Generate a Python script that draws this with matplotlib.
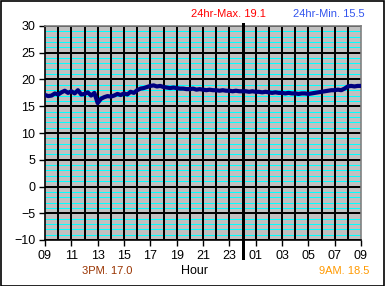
import numpy as np
import matplotlib
matplotlib.use("Agg")
import matplotlib.pyplot as plt
from matplotlib.lines import Line2D
from matplotlib.patches import Rectangle

# temperatura cada 15 minutos, desde las 09:00 hasta las 09:00 del dia siguiente
temps = [
    17.1, 16.9, 17.0, 17.4,   # 09
    17.2, 17.6, 17.9, 17.5,   # 10
    17.8, 17.4, 18.0, 17.2,   # 11
    17.3, 17.6, 17.0, 17.5,   # 12
    15.6, 16.4, 16.7, 16.9,   # 13
    16.8, 17.0, 17.3, 17.1,   # 14
    17.4, 17.2, 17.7, 17.5,   # 15
    18.0, 18.3, 18.4, 18.6,   # 16
    18.8, 18.9, 18.7, 18.8,   # 17
    18.6, 18.5, 18.4, 18.5,   # 18
    18.4, 18.3, 18.3, 18.2,   # 19
    18.2, 18.3, 18.1, 18.2,   # 20
    18.1, 18.0, 18.1, 18.0,   # 21
    18.0, 17.9, 18.0, 17.9,   # 22
    17.9, 17.8, 17.9, 17.8,   # 23
    17.8, 17.8, 17.7, 17.8,   # 00
    17.7, 17.7, 17.6, 17.7,   # 01
    17.6, 17.5, 17.6, 17.5,   # 02
    17.5, 17.4, 17.5, 17.4,   # 03
    17.4, 17.3, 17.4, 17.4,   # 04
    17.3, 17.4, 17.5, 17.6,   # 05
    17.7, 17.8, 17.9, 18.0,   # 06
    18.0, 18.1, 18.0, 18.3,   # 07
    18.7, 18.8, 18.7, 18.8,   # 08
    18.8,                     # 09
]
horas = np.arange(len(temps)) * 0.25

etiquetas_x = ["09", "11", "13", "15", "17", "19", "21", "23",
               "01", "03", "05", "07", "09"]
etiquetas_y = [-10, -5, 0, 5, 10, 15, 20, 25, 30]

maxima = "24hr-Max. 19.1"
minima = "24hr-Min. 15.5"
tarde = "3PM. 17.0"
manana = "9AM. 18.5"
medianoche = 15  # horas despues de las 09:00

plt.rcParams["font.family"] = ["Liberation Sans", "DejaVu Sans"]

fig = plt.figure(figsize=(3.85, 2.86), dpi=100)
fig.patch.set_facecolor("white")
ax = fig.add_axes([45 / 385, 1 - 240 / 286, 316 / 385, 214 / 286])
ax.set_facecolor("#c0c0c0")

ax.set_xlim(0, 24)
ax.set_ylim(-10, 30)

# rejilla
for v in range(-10, 31):
    if v % 5 == 0:
        ax.axhline(v, color="black", lw=1.44, zorder=2, antialiased=False)
    else:
        ax.axhline(v, color="#00ffff", lw=0.72, zorder=1, antialiased=False)
for h in range(1, 24):
    ax.axvline(h, color="black", lw=1.44, zorder=2, antialiased=False)

# linea de medianoche
ax.add_line(Line2D([medianoche, medianoche], [-0.085, 1.01], transform=ax.get_xaxis_transform(),
                   color="black", lw=2.0, clip_on=False, zorder=3, antialiased=False))

ax.plot(horas, temps, color="#000080", lw=3.0, zorder=4)

ax.set_xticks(np.arange(0, 25, 2))
ax.set_xticklabels(etiquetas_x)
ax.set_yticks(etiquetas_y)
ax.tick_params(direction="out", length=4, width=1, labelsize=9, pad=3)

for s in ["left", "bottom"]:
    ax.spines[s].set_color("black")
    ax.spines[s].set_linewidth(1.2)
for s in ["top", "right"]:
    ax.spines[s].set_color("#808080")
    ax.spines[s].set_linewidth(1.2)

fig.text(228 / 385, 1 - 14 / 286, maxima, color="#ff0000", fontsize=8, ha="center", va="center")
fig.text(329 / 385, 1 - 14 / 286, minima, color="#3355ee", fontsize=8, ha="center", va="center")
fig.text(107 / 385, 1 - 271 / 286, tarde, color="#993300", fontsize=8, ha="center", va="center")
fig.text(195 / 385, 1 - 271 / 286, "Hour", color="black", fontsize=9, ha="center", va="center")
fig.text(344 / 385, 1 - 271 / 286, manana, color="#ff9900", fontsize=8, ha="center", va="center")

fig.patches.append(Rectangle((0.5 / 385, 0.5 / 286), 383.5 / 385, 284.5 / 286, transform=fig.transFigure,
                             fill=False, edgecolor="black", lw=1.2))

fig.savefig("out.png", dpi=100)
